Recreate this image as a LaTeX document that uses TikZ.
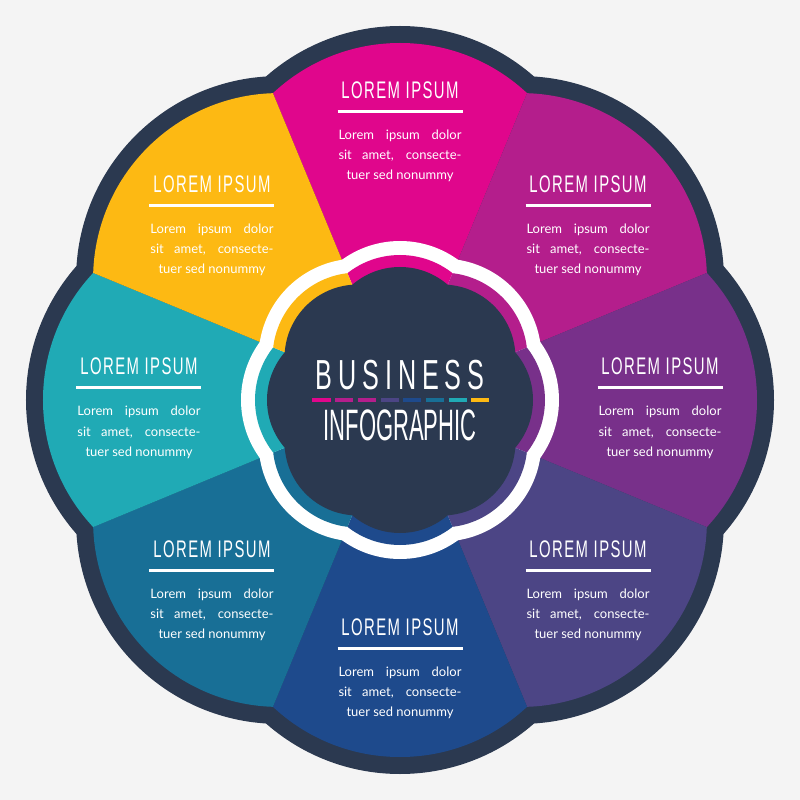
\documentclass[tikz,border=0pt]{standalone}
\usepackage{fontspec}
\setmainfont{Lato}
\newfontfamily\headfont[FakeStretch=0.62,LetterSpace=6]{Liberation Sans}
\newfontfamily\titlefont[FakeStretch=0.6,LetterSpace=14]{Liberation Sans}
\newfontfamily\subtitlefont[FakeStretch=0.5]{Liberation Sans}

\definecolor{bgGray}{HTML}{F4F4F4}
\definecolor{darkNavy}{HTML}{2B3950}
\definecolor{petalMagenta}{HTML}{E0068C}
\definecolor{petalOrchid}{HTML}{B41E8C}
\definecolor{petalPurple}{HTML}{78308A}
\definecolor{petalIndigo}{HTML}{4C4585}
\definecolor{petalBlue}{HTML}{1E4A8C}
\definecolor{petalOcean}{HTML}{186F96}
\definecolor{petalTeal}{HTML}{20AAB5}
\definecolor{petalYellow}{HTML}{FDB913}

\tikzset{
  headtext/.style={anchor=base, text=white, inner sep=0pt, font=\headfont\fontsize{24}{24}\selectfont},
  bodytext/.style={anchor=base, text=white, inner sep=0pt, font=\fontsize{13}{13}\selectfont},
  rulebar/.style={white, line width=3pt},
  dashbar/.style={line width=4pt}
}

% One text block: name, x of its centre, baseline of its heading
\newcommand{\textblock}[3]{
  \node[headtext] (#1head) at (#2,#3) {LOREM IPSUM};
  \coordinate (#1ruleL) at (#2-62.5,#3-13);
  \coordinate (#1ruleR) at (#2+62.5,#3-13);
  \draw[rulebar] (#1ruleL) -- (#1ruleR);
  \node[bodytext] (#1lineA) at (#2,#3-41) {\makebox[123pt][s]{Lorem ipsum dolor}};
  \node[bodytext] (#1lineB) at (#2,#3-61) {\makebox[123pt][s]{sit amet, consecte-}};
  \node[bodytext] (#1lineC) at (#2,#3-81) {tuer sed nonummy};
}

\begin{document}
\begin{tikzpicture}[x=1pt, y=1pt]
  % Define parameters
  \def\petalDist{171} % Distance from the centre to a petal's circle
  \def\petalR{186}    % Radius of a coloured petal
  \def\rimR{203}      % Radius of the dark rim
  \def\lobeDist{60}   % Distance from the centre to a lobe's circle
  \def\lobeR{73}      % Radius of the dark lobe
  \def\bandR{85}      % Radius of the coloured band
  \def\ringR{99}      % Radius of the white ring

  % Background
  \fill[bgGray] (-400,-400) rectangle (400,400);
  \useasboundingbox (-400,-400) rectangle (400,400);

  % Dark rim
  \foreach \ang in {0,45,...,315}
    \fill[darkNavy] (\ang:\petalDist) circle (\rimR);

  % Coloured petals, each cut to its own wedge
  \foreach \ang/\col in {90/petalMagenta,45/petalOrchid,0/petalPurple,-45/petalIndigo,
                         -90/petalBlue,-135/petalOcean,180/petalTeal,135/petalYellow}{
    \begin{scope}
      \clip (0,0) -- (\ang-22.5:600) -- (\ang+22.5:600) -- cycle;
      \fill[\col] (\ang:\petalDist) circle (\petalR);
    \end{scope}
  }

  % White ring
  \foreach \ang in {0,45,...,315}
    \fill[white] (\ang:\lobeDist) circle (\ringR);

  % Coloured band inside the ring
  \foreach \ang/\col in {90/petalMagenta,45/petalOrchid,0/petalPurple,-45/petalIndigo,
                         -90/petalBlue,-135/petalOcean,180/petalTeal,135/petalYellow}{
    \begin{scope}
      \clip (0,0) -- (\ang-22.5:300) -- (\ang+22.5:300) -- cycle;
      \fill[\col] (\ang:\lobeDist) circle (\bandR);
    \end{scope}
  }

  % Dark centre
  \foreach \ang in {0,45,...,315}
    \fill[darkNavy] (\ang:\lobeDist) circle (\lobeR);

  % Centre title
  \node[anchor=base, text=white, inner sep=0pt, font=\titlefont\fontsize{42}{42}\selectfont] (business) at (0,10) {BUSINESS};
  \node[anchor=base, text=white, inner sep=0pt, font=\subtitlefont\fontsize{44}{44}\selectfont] (infographic) at (0,-40) {INFOGRAPHIC};

  % Row of dashes between the two title lines
  \foreach \i/\col in {0/petalMagenta,1/petalOrchid,2/petalOrchid,3/petalIndigo,
                       4/petalBlue,5/petalOcean,6/petalTeal,7/petalYellow}
    \draw[dashbar, \col] (-87.5+\i*22.7,0) -- ++(18,0);

  % Text blocks
  \textblock{top}{0}{301}
  \textblock{upright}{188}{207}
  \textblock{right}{260}{25}
  \textblock{lowright}{188}{-157}
  \textblock{bottom}{0}{-235}
  \textblock{lowleft}{-188}{-157}
  \textblock{left}{-261}{25}
  \textblock{upleft}{-188}{207}
\end{tikzpicture}
\end{document}
